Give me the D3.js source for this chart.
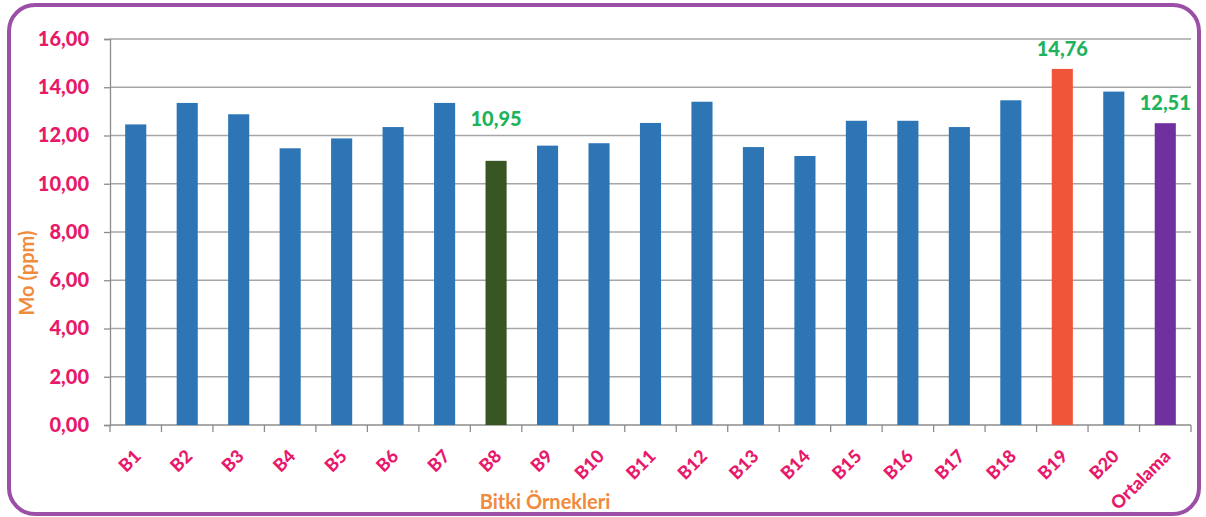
<!DOCTYPE html>
<html>
<head>
<meta charset="utf-8">
<script src="https://cdn.jsdelivr.net/npm/d3@7/dist/d3.min.js"></script>
<style>
  html, body { margin: 0; padding: 0; background: #ffffff; }
  svg { display: block; }
</style>
</head>
<body>
<svg id="chart" width="1206" height="517"></svg>
<script>
// Mo (ppm) per plant sample, plus the overall mean
const categories = ["B1","B2","B3","B4","B5","B6","B7","B8","B9","B10","B11","B12","B13","B14","B15","B16","B17","B18","B19","B20","Ortalama"];
const values = [12.46,13.35,12.88,11.47,11.88,12.35,13.35,10.95,11.58,11.68,12.52,13.40,11.52,11.15,12.61,12.61,12.35,13.46,14.76,13.82,12.51];
const yTicks = [0,2,4,6,8,10,12,14,16];
const labelled = ["B8","B19","Ortalama"];

const colorFor = c => c === "B8" ? "#375623" : c === "B19" ? "#F0553A" : c === "Ortalama" ? "#7030A0" : "#2E75B6";
const fmt = v => d3.format(".2f")(v).replace(".", ",");
const FONT = "Lato, 'Open Sans', sans-serif";

const svg = d3.select("#chart");
const plot = { left: 110, right: 1191, top: 39, bottom: 425 };

// rounded purple frame
svg.append("rect")
  .attr("x", 9).attr("y", 5).attr("width", 1190).attr("height", 509)
  .attr("rx", 26).attr("ry", 26)
  .attr("fill", "#fff").attr("stroke", "#9B4FA6").attr("stroke-width", 4);

const x = d3.scaleBand().domain(categories).range([plot.left, plot.right]).paddingInner(0.59).paddingOuter(0.295);
const y = d3.scaleLinear().domain([0, 16]).range([plot.bottom, plot.top]);

// horizontal gridlines
svg.append("g").selectAll("line").data(yTicks.filter(t => t > 0)).join("line")
  .attr("x1", plot.left).attr("x2", plot.right)
  .attr("y1", d => y(d)).attr("y2", d => y(d))
  .attr("stroke", "#A6A6A6").attr("stroke-width", 1.3);

// y axis
const yAxis = svg.append("g").attr("transform", `translate(${plot.left},0)`)
  .call(d3.axisLeft(y).tickValues(yTicks).tickFormat(fmt).tickSize(6).tickPadding(15));
yAxis.select(".domain").attr("stroke", "#8C8C8C").attr("stroke-width", 1.3);
yAxis.selectAll(".tick line").attr("stroke", "#8C8C8C").attr("stroke-width", 1.3);
yAxis.selectAll(".tick text")
  .attr("fill", "#E8186B").attr("font-family", FONT)
  .attr("font-weight", "900").attr("font-size", "20px");

// x axis with ticks at band boundaries
const step = x.step();
const xg = svg.append("g").attr("transform", `translate(0,${plot.bottom})`);
xg.append("line").attr("x1", plot.left).attr("x2", plot.right).attr("y1", 0).attr("y2", 0)
  .attr("stroke", "#8C8C8C").attr("stroke-width", 1.3);
xg.selectAll("line.tk").data(d3.range(categories.length + 1)).join("line").attr("class", "tk")
  .attr("x1", i => plot.left + i * step).attr("x2", i => plot.left + i * step)
  .attr("y1", 0).attr("y2", 7).attr("stroke", "#8C8C8C").attr("stroke-width", 1.3);
xg.selectAll("text").data(categories).join("text")
  .attr("transform", d => `translate(${x(d) + x.bandwidth() / 2 + 2},${28}) rotate(-45)`)
  .attr("text-anchor", "end").attr("dy", "0.35em")
  .attr("fill", "#E8186B").attr("font-family", FONT)
  .attr("font-weight", "900").attr("font-size", "18px")
  .text(d => d);

// bars
svg.append("g").selectAll("rect").data(categories).join("rect")
  .attr("x", d => x(d)).attr("width", x.bandwidth())
  .attr("y", (d, i) => y(values[i]))
  .attr("height", (d, i) => y(0) - y(values[i]))
  .attr("fill", d => colorFor(d));

// value labels on highlighted bars (the B8 label sits higher, above the gridline)
const labelLift = d => d === "B8" ? 35 : 13;
svg.append("g").selectAll("text").data(categories.filter(c => labelled.includes(c))).join("text")
  .attr("x", d => x(d) + x.bandwidth() / 2)
  .attr("y", d => y(values[categories.indexOf(d)]) - labelLift(d))
  .attr("text-anchor", "middle")
  .attr("fill", "#1DB35C").attr("font-family", FONT)
  .attr("font-weight", "900").attr("font-size", "20px")
  .text(d => fmt(values[categories.indexOf(d)]));

// axis titles
svg.append("text")
  .attr("transform", `translate(34,273) rotate(-90)`)
  .attr("text-anchor", "middle")
  .attr("fill", "#F08A3C").attr("font-family", FONT)
  .attr("font-weight", "bold").attr("font-size", "20px")
  .text("Mo (ppm)");
svg.append("text")
  .attr("x", 545).attr("y", 509)
  .attr("text-anchor", "middle")
  .attr("fill", "#F08A3C").attr("font-family", FONT)
  .attr("font-weight", "bold").attr("font-size", "20px")
  .text("Bitki Örnekleri");
</script>
</body>
</html>
